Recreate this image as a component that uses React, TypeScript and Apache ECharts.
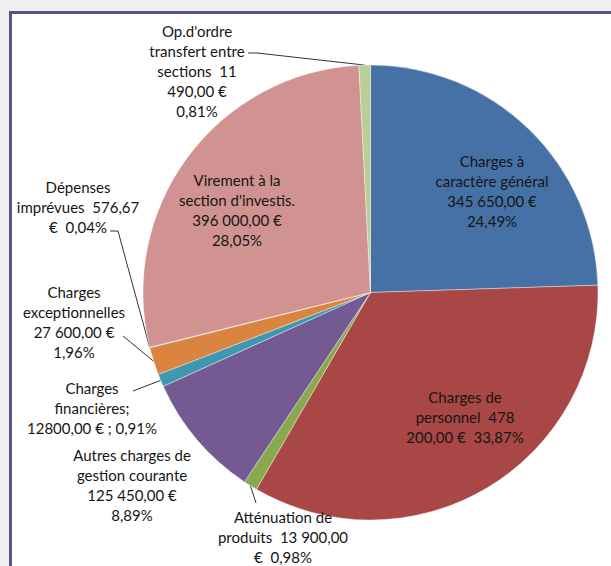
import React, { useEffect, useRef } from "react";
import * as echarts from "echarts";

// ---- Data ----
const categories = [
  "Charges à caractère général",
  "Charges de personnel",
  "Atténuation de produits",
  "Autres charges de gestion courante",
  "Charges financières",
  "Charges exceptionnelles",
  "Dépenses imprévues",
  "Virement à la section d'investis.",
  "Op.d'ordre transfert entre sections",
];
const values = [345650, 478200, 13900, 125450, 12800, 27600, 576.67, 396000, 11490];
const labelTexts = [
  "Charges à\ncaractère général\n345 650,00 €\n24,49%",
  "Charges de\npersonnel  478\n200,00 €  33,87%",
  "Atténuation de\nproduits  13 900,00\n€  0,98%",
  "Autres charges de\ngestion courante\n125 450,00 €\n8,89%",
  "Charges\nfinancières;\n12800,00 € ; 0,91%",
  "Charges\nexceptionnelles\n27 600,00 €\n1,96%",
  "Dépenses\nimprévues  576,67\n€  0,04%",
  "Virement à la\nsection d'investis.\n396 000,00 €\n28,05%",
  "Op.d'ordre\ntransfert entre\nsections  11\n490,00 €\n0,81%",
];

// ---- Styling / layout ----
const colors = ["#4571A7", "#A94746", "#8AA84E", "#735A92", "#3E98B0", "#DB8440", "#94AACF", "#D09391", "#BACF95"];
const CENTER: [number, number] = [370.5, 292.5];
const RADIUS = 227.5;
// label block centres (px in chart)
const labelPos: [number, number][] = [
  [492, 190.5],
  [465, 417],
  [283, 537],
  [132, 485],
  [92, 407.5],
  [74, 322],
  [78, 207],
  [237, 209.5],
  [197, 70.5],
];
// leader line elbow points (label side), null = no leader line
const leaderEnd: ([number, number][] | null)[] = [
  null,
  null,
  [[256, 503]],
  null,
  [[133, 391]],
  [[123, 336]],
  [[118, 231], [110, 231]],
  null,
  [[257, 53], [248, 53]],
];

export default function App() {
  const ref = useRef<HTMLDivElement>(null);
  useEffect(() => {
    if (!ref.current) return;
    const chart = echarts.init(ref.current, undefined, { renderer: "svg" });
    const total = values.reduce((a, b) => a + b, 0);
    const midAngles: number[] = [];
    let acc = 0;
    values.forEach((v) => {
      midAngles.push(((acc + v / 2) / total) * 2 * Math.PI);
      acc += v;
    });
    const edgePoint = (i: number): [number, number] => {
      const t = midAngles[i];
      return [CENTER[0] + RADIUS * Math.sin(t), CENTER[1] - RADIUS * Math.cos(t)];
    };
    chart.setOption({
      animation: false,
      series: [
        {
          type: "pie",
          center: CENTER,
          radius: [0, RADIUS],
          startAngle: 90,
          clockwise: true,
          avoidLabelOverlap: false,
          emphasis: { disabled: true },
          itemStyle: { borderColor: "rgba(255,255,255,0.55)", borderWidth: 0.7 },
          label: {
            show: true,
            position: "outside",
            fontFamily: "Lato",
            fontSize: 15,
            lineHeight: 20,
            color: "#161616",
            formatter: (p: any) => labelTexts[p.dataIndex],
          },
          labelLine: {
            show: true,
            length: 5,
            length2: 5,
            smooth: false,
            lineStyle: { color: "#333", width: 1 },
          },
          labelLayout: (p: any) => {
            const i = p.dataIndex;
            const out: any = {
              x: labelPos[i][0],
              y: labelPos[i][1],
              align: "center",
              verticalAlign: "middle",
            };
            const le = leaderEnd[i];
            if (le) out.labelLinePoints = [edgePoint(i), ...le];
            return out;
          },
          data: categories.map((name, i) => ({
            name,
            value: values[i],
            itemStyle: { color: colors[i] },
            labelLine: { show: leaderEnd[i] !== null },
          })),
        },
      ],
    });
    return () => chart.dispose();
  }, []);
  return (
    <div
      style={{
        position: "fixed",
        left: 0,
        top: 0,
        width: 611,
        height: 566,
        background: "#EEF0EF",
        overflow: "hidden",
      }}
    >
      <div
        style={{
          position: "absolute",
          left: 9,
          top: 11,
          width: 800,
          height: 800,
          background: "#fff",
          borderLeft: "3px solid #5C4D96",
          borderTop: "3px solid #5C4D96",
        }}
      />
      <div ref={ref} style={{ position: "absolute", left: 0, top: 0, width: 611, height: 566 }} />
    </div>
  );
}
